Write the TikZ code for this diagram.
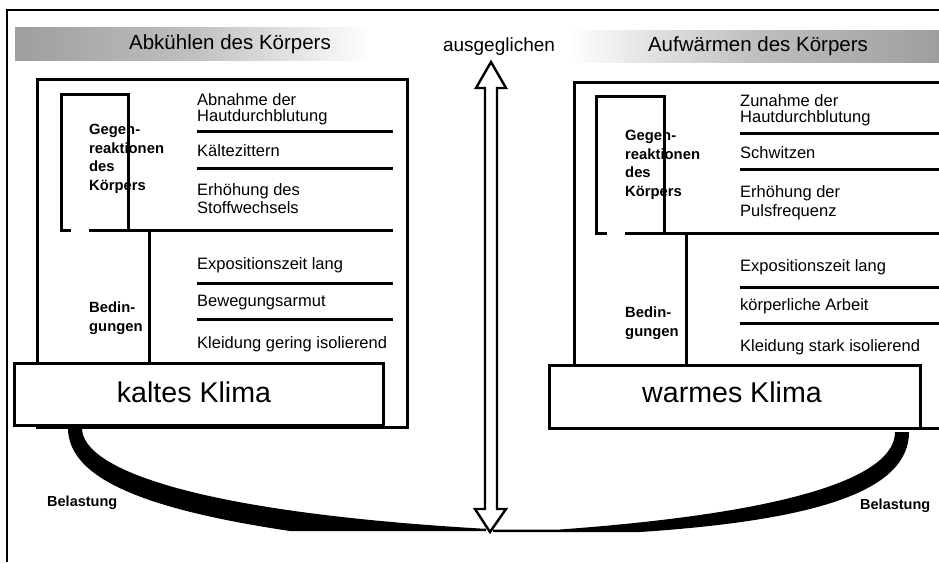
\documentclass[tikz,border=0pt]{standalone}
\usepackage{fontspec}
\setmainfont{Liberation Sans}
\begin{document}
\begin{tikzpicture}[x=1pt,y=-1pt,
  bx/.style={line width=3pt},
  thin border/.style={line width=1.2pt},
  lbl/.style={anchor=west, inner sep=0pt, align=left, font=\fontsize{16.5}{16}\selectfont},
  blbl/.style={anchor=west, inner sep=0pt, align=left, font=\bfseries\fontsize{14.8}{18.5}\selectfont},
  ttl/.style={inner sep=0pt, font=\fontsize{20.5}{24}\selectfont},
  klima/.style={inner sep=0pt, font=\fontsize{28.6}{32}\selectfont}]
\useasboundingbox (0,0) rectangle (939,562);
\fill[white] (0,0) rectangle (939,562);
% header bands
\shade[left color=black!38, right color=white, middle color=black!25] (15,27) rectangle (370,60);
\shade[left color=white, right color=black!38, middle color=black!25] (567,30) rectangle (939,62);
% page borders
\draw[thin border] (7,562) -- (7,10) -- (939,10);
% ---------------- left part ----------------
\draw[bx] (37,79) rectangle (407,427);
\draw[bx] (71,230) -- (61,230) -- (61,94) -- (128,94) -- (128,230);
\draw[bx] (89,230) -- (393,230);
\draw[bx] (149,230) -- (149,363);
\draw[bx] (197,131) -- (393,131);
\draw[bx] (197,168) -- (393,168);
\draw[bx] (197,283) -- (393,283);
\draw[bx] (197,319) -- (393,319);
\node[ttl] (tl) at (230,44) {Abkühlen des Körpers};
\node[lbl] (l1) at (197,109) {Abnahme der\\Hautdurchblutung};
\node[lbl] (l2) at (197,151) {Kältezittern};
\node[lbl, font=\fontsize{16.5}{18}\selectfont] (l3) at (197,199) {Erhöhung des\\Stoffwechsels};
\node[lbl] (l4) at (197,265) {Expositionszeit lang};
\node[lbl] (l5) at (197,303) {Bewegungsarmut};
\node[lbl] (l6) at (197,344) {Kleidung gering isolierend};
\node[blbl] (lg) at (89,159) {Gegen-\\reaktionen\\des\\Körpers};
\draw[bx] (128,94) -- (128,230);
\node[blbl] (lb) at (89,318) {Bedin-\\gungen};
\draw[bx, fill=white] (14,363) rectangle (383,425);
\node[klima] (kk) at (194,392) {kaltes Klima};
% ---------------- right part ----------------
\draw[bx] (939,82) -- (574,82) -- (574,428) -- (939,428);
\draw[bx] (607,233) -- (596,233) -- (596,96) -- (664,96) -- (664,233);
\draw[bx] (625,233) -- (939,233);
\draw[bx] (686,233) -- (686,365);
\draw[bx] (740,133) -- (939,133);
\draw[bx] (740,169) -- (939,169);
\draw[bx] (740,287) -- (939,287);
\draw[bx] (740,323) -- (939,323);
\node[ttl] (tr) at (758,46) {Aufwärmen des Körpers};
\node[lbl] (r1) at (740,110) {Zunahme der\\Hautdurchblutung};
\node[lbl] (r2) at (740,153) {Schwitzen};
\node[lbl, font=\fontsize{16.5}{19}\selectfont] (r3) at (740,203) {Erhöhung der\\Pulsfrequenz};
\node[lbl] (r4) at (740,267) {Expositionszeit lang};
\node[lbl] (r5) at (740,306) {körperliche Arbeit};
\node[lbl] (r6) at (740,347) {Kleidung stark isolierend};
\node[blbl] (rg) at (625,165) {Gegen-\\reaktionen\\des\\Körpers};
\draw[bx] (664,96) -- (664,233);
\node[blbl] (rb) at (625,323) {Bedin-\\gungen};
\draw[bx, fill=white] (549,365) rectangle (920,428);
\node[klima] (wk) at (732,392) {warmes Klima};
% ---------------- load curves ----------------
\fill (68,428) .. controls (68,480) and (150,510) .. (290,531) -- (486,531)
  -- (486,528.5) -- (480,528.5) .. controls (200,512) and (82,470) .. (82,428) -- cycle;
\fill (909,432) .. controls (909,490) and (820,520) .. (640,532) -- (493,532)
  -- (493,529.5) -- (560,529.5) .. controls (800,512) and (895,475) .. (895,432) -- cycle;
\node[anchor=west, inner sep=0pt, font=\bfseries\fontsize{14.5}{16}\selectfont] (bl) at (47,503) {Belastung};
\node[anchor=west, inner sep=0pt, font=\bfseries\fontsize{14.5}{16}\selectfont] (br) at (860,506) {Belastung};
% ---------------- balance arrow ----------------
\node[inner sep=0pt, font=\fontsize{19}{22}\selectfont] (aus) at (499,47) {ausgeglichen};
\draw[line width=2.4pt, fill=white, line join=miter]
  (491,62) -- (506,88) -- (497,88) -- (497,509) -- (506,509) -- (490,532)
  -- (475,509) -- (485,509) -- (485,88) -- (476,88) -- cycle;
\end{tikzpicture}
\end{document}
